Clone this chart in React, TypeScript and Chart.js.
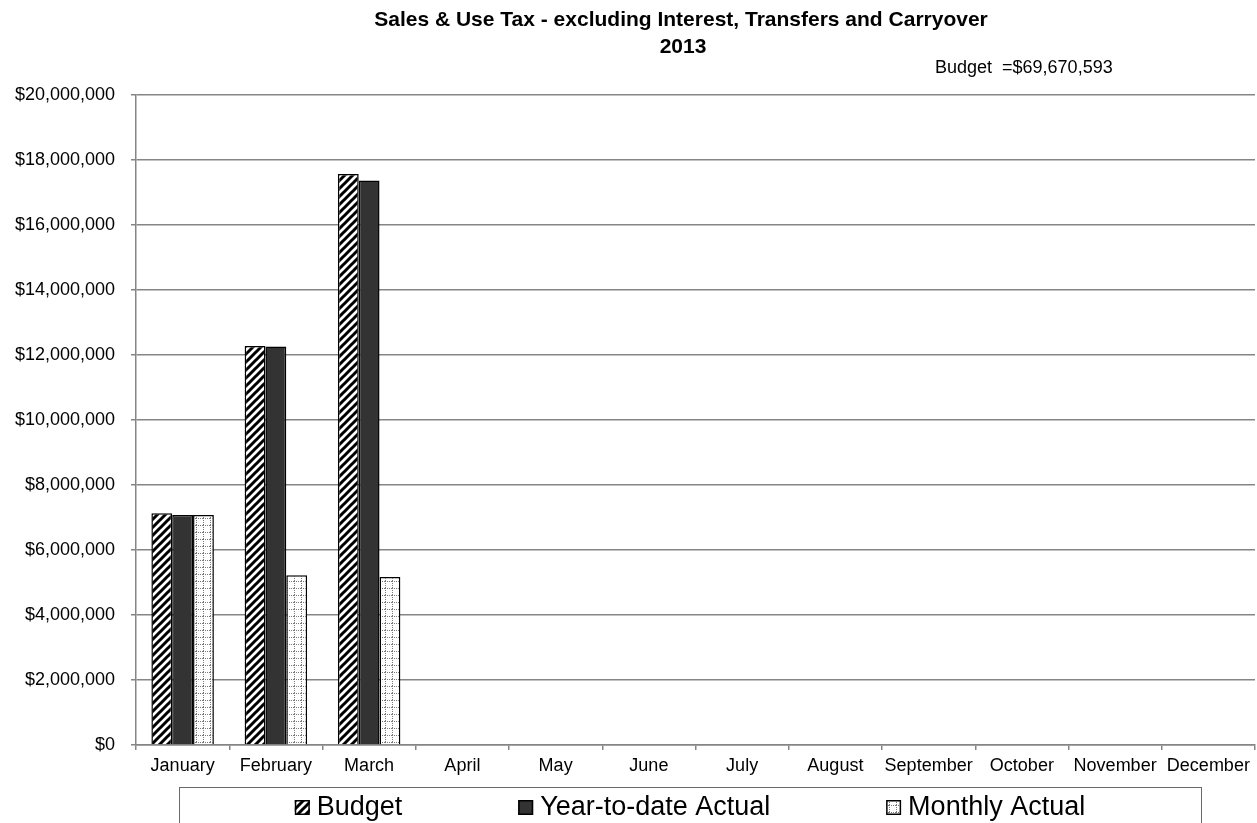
import React, { useEffect, useRef } from "react";
import { Chart, registerables } from "chart.js";

Chart.register(...registerables);

// ---- data ----
const months = [
  "January", "February", "March", "April", "May", "June",
  "July", "August", "September", "October", "November", "December",
];
const budget: (number | null)[] = [7130000, 12280000, 17570000, null, null, null, null, null, null, null, null, null];
const ytdActual: (number | null)[] = [7080000, 12260000, 17370000, null, null, null, null, null, null, null, null, null];
const monthlyActual: (number | null)[] = [7080000, 5220000, 5170000, null, null, null, null, null, null, null, null, null];
const seriesNames = ["Budget", "Year-to-date Actual", "Monthly Actual"];
const titleLines = ["Sales & Use Tax - excluding Interest, Transfers and Carryover", "2013"];
const budgetNote = "Budget  =$69,670,593";
const yMax = 20000000;
const yStep = 2000000;

const FONT = "'Liberation Sans', Arial, Helvetica, sans-serif";
const AXIS_GRAY = "#858585";

// diagonal "/" hatch, black on white
function hatchPattern(ctx: CanvasRenderingContext2D): CanvasPattern {
  const s = 8;
  const c = document.createElement("canvas");
  c.width = s;
  c.height = s;
  const g = c.getContext("2d")!;
  g.fillStyle = "#fff";
  g.fillRect(0, 0, s, s);
  g.strokeStyle = "#000";
  g.lineWidth = 3;
  g.beginPath();
  g.moveTo(0, s);
  g.lineTo(s, 0);
  g.moveTo(-2, 2);
  g.lineTo(2, -2);
  g.moveTo(s - 2, s + 2);
  g.lineTo(s + 2, s - 2);
  g.stroke();
  return ctx.createPattern(c, "repeat")!;
}

// dotted grid, gray dots on white
function dottedGridPattern(ctx: CanvasRenderingContext2D): CanvasPattern {
  const s = 7;
  const c = document.createElement("canvas");
  c.width = s;
  c.height = s;
  const g = c.getContext("2d")!;
  g.fillStyle = "#fff";
  g.fillRect(0, 0, s, s);
  g.fillStyle = "#7a7a7a";
  for (let i = 0; i < s; i += 2) {
    g.fillRect(i, 0, 1, 1);
    g.fillRect(0, i, 1, 1);
  }
  return ctx.createPattern(c, "repeat")!;
}

const headerPlugin = {
  id: "header",
  afterDraw(chart: any) {
    const ctx: CanvasRenderingContext2D = chart.ctx;
    ctx.save();
    ctx.fillStyle = "#000";
    ctx.textAlign = "center";
    ctx.textBaseline = "alphabetic";
    ctx.font = `bold 21px ${FONT}`;
    ctx.fillText(titleLines[0], 681, 26);
    ctx.fillText(titleLines[1], 683, 53);
    ctx.font = `18px ${FONT}`;
    ctx.textAlign = "left";
    ctx.fillText(budgetNote, 935, 73);
    ctx.restore();
  },
};

const boxedLegendPlugin = {
  id: "boxedLegend",
  afterDraw(chart: any) {
    const ctx: CanvasRenderingContext2D = chart.ctx;
    const left = 179;
    const right = 1201;
    const top = 787;
    const bottom = 840;
    const icon = 15;
    const iconGap = 7;
    const baseline = 815;
    ctx.save();
    ctx.strokeStyle = "#6a6a6a";
    ctx.lineWidth = 1;
    ctx.strokeRect(left + 0.5, top + 0.5, right - left, bottom - top);

    ctx.font = `27px ${FONT}`;
    ctx.textBaseline = "alphabetic";
    ctx.textAlign = "left";
    const ds = chart.data.datasets;
    const widths = ds.map((d: any) => icon + iconGap + ctx.measureText(d.label).width);
    const total = widths.reduce((a: number, b: number) => a + b, 0);
    const gap = (right - left - total) / (ds.length + 1);
    let x = left + gap;
    ds.forEach((d: any, i: number) => {
      const iy = baseline - icon;
      ctx.fillStyle = d.backgroundColor;
      ctx.fillRect(x, iy, icon, icon);
      ctx.strokeStyle = "#000";
      ctx.lineWidth = 1.5;
      ctx.strokeRect(x + 0.75, iy + 0.75, icon - 1.5, icon - 1.5);
      ctx.fillStyle = "#000";
      ctx.fillText(d.label, x + icon + iconGap, baseline);
      x += widths[i] + gap;
    });
    ctx.restore();
  },
};

export default function App() {
  const canvasRef = useRef<HTMLCanvasElement | null>(null);

  useEffect(() => {
    document.body.style.margin = "0";
    const canvas = canvasRef.current!;
    const ctx = canvas.getContext("2d")!;
    const hatch = hatchPattern(ctx);
    const dots = dottedGridPattern(ctx);

    const barCommon = {
      borderColor: "#000",
      borderWidth: 1.5,
      barPercentage: 1.0,
      categoryPercentage: 0.67,
    };

    const chart = new Chart(ctx, {
      type: "bar",
      data: {
        labels: months,
        datasets: [
          { label: seriesNames[0], data: budget, backgroundColor: hatch as any, ...barCommon },
          { label: seriesNames[1], data: ytdActual, backgroundColor: "#333333", ...barCommon },
          { label: seriesNames[2], data: monthlyActual, backgroundColor: dots as any, ...barCommon },
        ],
      },
      options: {
        animation: false,
        responsive: false,
        maintainAspectRatio: false,
        layout: { padding: { top: 95, right: 2, bottom: 38, left: 0 } },
        plugins: {
          legend: { display: false },
          title: { display: false },
          tooltip: { enabled: false },
        },
        scales: {
          x: {
            grid: {
              offset: true,
              drawOnChartArea: false,
              drawTicks: true,
              tickLength: 5,
              color: AXIS_GRAY,
              lineWidth: 1.5,
            },
            border: { display: true, color: AXIS_GRAY, width: 1.5 },
            ticks: {
              font: { family: FONT, size: 18 },
              color: "#000",
              padding: 5,
              maxRotation: 0,
              autoSkip: false,
            },
            afterFit: (s: any) => {
              s.height = 40;
            },
          },
          y: {
            min: 0,
            max: yMax,
            ticks: {
              stepSize: yStep,
              font: { family: FONT, size: 18 },
              color: "#000",
              padding: 16,
              callback: (v: any) => "$" + Number(v).toLocaleString("en-US"),
            },
            grid: {
              color: AXIS_GRAY,
              lineWidth: 1.5,
              tickLength: 5,
            },
            border: { display: true, color: AXIS_GRAY, width: 1.5 },
            afterFit: (s: any) => {
              s.width = 136;
            },
          },
        },
      },
      plugins: [headerPlugin, boxedLegendPlugin],
    });

    return () => chart.destroy();
  }, []);

  return (
    <div style={{ width: 1257, height: 823, background: "#fff" }}>
      <canvas ref={canvasRef} width={1257} height={823} style={{ display: "block" }} />
    </div>
  );
}
